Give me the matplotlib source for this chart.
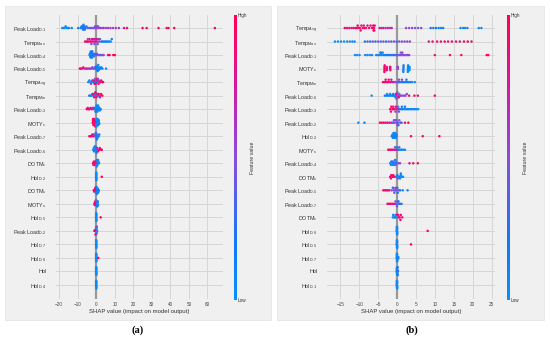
import numpy as np
import matplotlib
matplotlib.use("Agg")
import matplotlib.pyplot as plt
from matplotlib.colors import LinearSegmentedColormap
from matplotlib.patches import Rectangle

plt.rcParams["font.family"] = ["Liberation Sans", "DejaVu Sans"]
plt.rcParams["mathtext.fontset"] = "custom"
plt.rcParams["mathtext.rm"] = "Liberation Sans"
plt.rcParams["mathtext.it"] = "Liberation Sans:italic"
plt.rcParams["mathtext.bf"] = "Liberation Sans:bold"

# ---------------- data: panel (a) ----------------
labels_a = [r"Peak Load$_{\text{D-1}}$", r"Temp$_{\text{Max}}$", r"Peak Load$_{\text{D-4}}$",
            r"Peak Load$_{\text{D-5}}$", r"Temp$_{\text{Avg}}$", r"Temp$_{\text{Min}}$",
            r"Peak Load$_{\text{D-3}}$", r"MOTY$_{\text{c}}$", r"Peak Load$_{\text{D-7}}$",
            r"Peak Load$_{\text{D-6}}$", r"DOTM$_{\text{c}}$", r"Hol$_{\text{D-2}}$",
            r"DOTM$_{\text{s}}$", r"MOTY$_{\text{s}}$", r"Hol$_{\text{D-5}}$",
            r"Peak Load$_{\text{D-2}}$", r"Hol$_{\text{D-7}}$", r"Hol$_{\text{D-6}}$",
            "Hol", r"Hol$_{\text{D-4}}$"]

strip = [-0.06, -0.04, -0.02, 0.0, 0.02, 0.04, 0.06, -0.05, -0.01, 0.03, 0.05, -0.03]
strip_f = [0.03, 0.05, 0.02, 0.04, 0.06, 0.03, 0.05, 0.02, 0.04, 0.06, 0.03, 0.05]

shap_a = [
    [-18.3, -17.7, -17.1, -16.5, -15.9, -15.3, -14.7, -13.2,
     -9.7, -8.4, -7.9, -7.6, -7.3, -7.1, -6.9, -6.7, -6.5, -6.2, -5.8, -5.3,
     -4.6, -3.8, -3.0, -2.3, -1.7, -1.1, -0.6, -0.2, 0.3, 0.6, 1.0, 1.6, 2.3, 3.1, 4.0,
     5.2, 6.4, 7.7, 9.1, 10.6, 12.2, 15.0, 16.6,
     25.0, 27.2, 33.6, 38.0, 39.0, 42.1, 64.0],
    [-6.0, -5.3, -4.7, -4.2, -3.7, -3.2, -2.8, -2.4, -2.0, -1.6, -1.2, -0.8, -0.4, 0.0, 0.5, 1.0, 1.6,
     -4.5, -2.6, -1.0, 0.8, 2.0, 2.8, 3.5, 4.2, 4.9, 5.6, 6.3, 7.0, 7.8, 8.4],
    [-3.6, -3.4, -3.2, -3.1, -3.0, -2.9, -2.8, -2.7, -2.6, -2.5, -2.3, -2.1, -1.9, -1.6, -1.3,
     -1.0, -0.6, -0.2, 0.4, 1.0, 1.7, 2.4, 3.2, 4.0, 6.4, 7.2, 9.2, 10.0],
    [-8.8, -8.3, -7.6, -7.0, -6.3, -5.5, -4.8, -4.0, -3.3, -2.7, -2.1, -1.6, -1.2, -0.8, -0.4,
     0.0, 0.3, 0.6, 0.9, 1.2, 1.5, 1.9, 2.3, 2.8, 3.3, 5.3, 0.1, 0.5, 0.8, 1.1, 1.4],
    [-4.3, -3.7, -3.1, -2.6, -2.1, -1.6, -1.1, -0.6, -0.2, 0.2, 0.6,
     -1.5, -0.9, -0.3, 0.2, 0.7, 1.2, 1.7, 2.2, 2.7, 3.2, 3.7, -2.8, -0.7, 0.9, 1.5],
    [-3.8, -3.2, -2.6, -2.1, -1.6, -1.1, -0.6, -0.1, 0.4, 0.9, 1.5, 2.1,
     -1.7, -1.1, -0.5, 0.1, 0.7, 1.3, 2.0, 2.6, 3.3],
    [-5.1, -4.6, -4.1, -3.6, -3.1, -2.6, -2.1, -1.7, -1.3, -0.9,
     -0.6, -0.3, -0.1, 0.1, 0.3, 0.5, 0.7, 0.9, 1.1, 1.4, 1.7, 2.0, 2.4, -0.4, 0.2, 0.6, 1.0],
    [-1.9, -1.6, -1.3, -1.0, -0.7, -0.4, -1.8, -1.5, -1.2, -0.9, -0.6, -0.3, -1.7, -1.1, -0.5,
     0.0, 0.3, 0.6, 0.9, 1.2, 1.5, 0.1, 0.4, 0.7, 1.0, 1.3, 1.6, 0.2, 0.8, 1.4],
    [-3.7, -3.2, -2.7, -2.2, -1.8, -1.4, -1.0,
     -0.8, -0.4, -0.1, 0.2, 0.5, 0.9, 1.3, 1.7, -0.2, 0.3, 0.7],
    [-1.6, -1.3, -1.0, -0.7, -0.4, -0.1, 0.2, 0.5, -1.2, -0.8, -0.3, 0.1,
     0.6, 1.0, 1.5, 2.0, 2.5, 3.0],
    [-1.7, -1.3, -0.9, -0.5, -0.2, -1.5, -1.0, -0.4,
     0.0, 0.4, 0.8, 1.2, 1.5, 0.2, 0.6, 1.0],
    strip + [3.0],
    [-1.3, -1.0, -0.7, -0.4, -0.1, 0.2, -1.1, -0.5, 0.1,
     -0.3, 0.0, 0.3, 0.6, 0.9, 1.2, 1.4, 0.5, 1.0],
    [-1.0, -0.7, -0.4, -0.8, -0.5, -0.2, 0.1,
     0.2, 0.5, 0.8, 1.0, 0.4, 0.9, 0.6, -0.1],
    strip + [2.4],
    strip + [-1.0, -0.7, -0.4, 0.3, 0.5],
    strip,
    strip + [1.1],
    strip,
    strip,
]

fval_a = [
    [0.02, 0.04, 0.03, 0.05, 0.04, 0.06, 0.05, 0.08,
     0.10, 0.12, 0.14, 0.10, 0.15, 0.20, 0.12, 0.18, 0.25, 0.20, 0.30, 0.28,
     0.35, 0.30, 0.45, 0.40, 0.50, 0.45, 0.50, 0.55, 0.50, 0.55, 0.45, 0.60, 0.55, 0.50, 0.60,
     0.55, 0.60, 0.60, 0.62, 0.58, 0.65, 0.85, 0.90,
     0.95, 0.95, 0.97, 0.98, 0.95, 0.97, 1.0],
    [0.90, 0.85, 0.95, 0.90, 0.88, 0.80, 0.90, 0.85, 0.75, 0.90, 0.80, 0.70, 0.85, 0.75, 0.70, 0.80, 0.65,
     0.50, 0.40, 0.45, 0.35, 0.30, 0.25, 0.20, 0.15, 0.10, 0.15, 0.08, 0.10, 0.05, 0.10],
    [0.05, 0.08, 0.10, 0.06, 0.12, 0.05, 0.15, 0.08, 0.10, 0.18, 0.12, 0.20, 0.15, 0.22, 0.18,
     0.25, 0.30, 0.35, 0.40, 0.42, 0.45, 0.40, 0.50, 0.55, 0.90, 0.95, 0.92, 1.0],
    [0.95, 0.90, 0.85, 0.80, 0.75, 0.70, 0.72, 0.65, 0.60, 0.62, 0.55, 0.50, 0.45, 0.40, 0.30,
     0.20, 0.15, 0.10, 0.12, 0.08, 0.10, 0.05, 0.10, 0.06, 0.10, 0.05, 0.08, 0.06, 0.12, 0.04, 0.07],
    [0.05, 0.08, 0.10, 0.06, 0.12, 0.05, 0.15, 0.08, 0.10, 0.12, 0.06,
     0.90, 0.85, 0.95, 0.88, 0.92, 0.90, 0.85, 0.95, 0.90, 0.88, 1.0, 0.55, 0.50, 0.60, 0.55],
    [0.05, 0.08, 0.10, 0.06, 0.12, 0.05, 0.15, 0.08, 0.10, 0.12, 0.06, 0.10,
     0.90, 0.85, 0.95, 0.88, 0.92, 0.90, 0.85, 0.95, 1.0],
    [0.95, 0.90, 0.92, 0.85, 0.88, 0.80, 0.75, 0.72, 0.65, 0.60,
     0.20, 0.10, 0.05, 0.12, 0.08, 0.15, 0.05, 0.10, 0.06, 0.12, 0.08, 0.05, 0.10, 0.15, 0.06, 0.10, 0.05],
    [0.95, 0.90, 0.92, 0.88, 0.90, 0.85, 0.95, 0.90, 0.92, 0.88, 0.90, 0.85, 1.0, 0.90, 0.88,
     0.05, 0.08, 0.10, 0.06, 0.12, 0.05, 0.15, 0.08, 0.10, 0.12, 0.06, 0.10, 0.05, 0.08, 0.06],
    [0.95, 0.90, 0.92, 0.85, 0.88, 0.80, 0.75,
     0.50, 0.40, 0.10, 0.30, 0.15, 0.45, 0.10, 0.05, 0.35, 0.20, 0.10],
    [0.05, 0.08, 0.10, 0.06, 0.12, 0.05, 0.15, 0.08, 0.10, 0.12, 0.06, 0.10,
     0.80, 0.85, 0.90, 0.88, 0.92, 1.0],
    [0.95, 0.90, 0.92, 0.85, 0.88, 0.90, 0.95, 0.85,
     0.05, 0.08, 0.10, 0.06, 0.12, 0.05, 0.15, 0.08],
    strip_f + [1.0],
    [0.95, 0.90, 0.92, 0.85, 0.88, 0.90, 0.95, 0.85, 0.80,
     0.05, 0.08, 0.10, 0.06, 0.12, 0.05, 0.15, 0.08, 0.10],
    [0.95, 0.90, 0.92, 0.85, 0.88, 0.90, 0.80,
     0.05, 0.08, 0.10, 0.06, 0.12, 0.05, 0.15, 0.40],
    strip_f + [1.0],
    strip_f + [0.95, 0.90, 0.85, 0.55, 0.50],
    strip_f,
    strip_f + [1.0],
    strip_f,
    strip_f,
]

# ---------------- data: panel (b) ----------------
labels_b = [r"Temp$_{\text{Avg}}$", r"Temp$_{\text{Max}}$", r"Peak Load$_{\text{D-1}}$",
            r"MOTY$_{\text{c}}$", r"Temp$_{\text{Min}}$", r"Peak Load$_{\text{D-6}}$",
            r"Peak Load$_{\text{D-3}}$", r"Peak Load$_{\text{D-2}}$", r"Hol$_{\text{D-2}}$",
            r"MOTY$_{\text{s}}$", r"Peak Load$_{\text{D-4}}$", r"DOTM$_{\text{s}}$",
            r"Peak Load$_{\text{D-5}}$", r"Peak Load$_{\text{D-7}}$", r"DOTM$_{\text{c}}$",
            r"Hol$_{\text{D-6}}$", r"Hol$_{\text{D-5}}$", r"Hol$_{\text{D-7}}$",
            "Hol", r"Hol$_{\text{D-1}}$"]

shap_b = [
    [-13.8, -13.2, -12.6, -12.0, -11.5, -11.0, -10.6, -10.2, -9.8, -9.4, -9.0, -8.6, -8.2, -7.8,
     -7.4, -7.0, -6.6, -6.3, -6.1, -5.9, -10.4, -9.6, -8.8, -6.2, -6.0,
     -4.6, -4.1, -3.6, -3.0, -2.4, -1.8, -1.4,
     2.4, 3.2, 4.0, 4.8, 5.6, 6.4,
     8.9, 9.6, 10.3, 11.0, 11.6, 12.2, 16.8, 17.5, 18.0, 18.6, 21.6, 22.3],
    [-16.4, -15.6, -14.8, -14.0, -13.2, -12.5, -11.8, -11.2,
     -8.5, -7.8, -7.1, -6.4, -5.7, -5.0, -4.3, -3.6, -2.9, -2.2, -1.5, -0.8, -0.1, 0.6, 1.3, 2.0, 2.7, 3.4,
     8.4, 9.4, 10.6, 11.6, 12.6, 13.5, 14.5, 15.6, 16.6, 17.7, 18.7, 19.7],
    [-11.1, -10.5, -9.9, -8.4, -7.8, -7.2, -6.6, -5.5, -5.0, -4.5, -4.1, -3.6, -3.2, -2.8, -2.4,
     -2.0, -1.6, -1.2, -0.8, -4.4, -3.8, -4.2,
     -0.4, 0.0, 0.4, 0.8, 1.2, 1.6, 2.0, 2.4, 2.8, 3.2, 1.0, 1.4,
     10.0, 14.0, 17.0, 23.7, 24.1],
    [-3.32, -3.30, -3.28, -3.26, -3.34, -2.70, -2.72, -2.68, -1.80, -1.82, -1.78, -1.84, -1.76,
     0.20, 0.22, 0.18, 0.24,
     1.70, 1.72, 1.68, 1.74, 1.66, 2.90, 2.92, 2.88, 2.94, 2.86, 3.30, 3.32, 3.28],
    [-3.7, -3.3, -2.9, -2.5, -2.1, -1.7, -1.3, -0.9, -0.5, -3.0, -2.2, -1.5,
     -0.1, 0.3, 0.7, 1.1, 1.5, 1.9, 2.3, 2.7, 3.1, 3.5, 4.0, 4.7, 0.5, 1.3, 2.5],
    [-6.7, -3.2, -2.8, -2.4, -2.0, -1.6, -1.2, -0.9, -0.6, -0.3, -2.6, -1.8, -1.0, -0.4,
     0.0, 0.3, 0.6, 0.9, 1.3, 1.8, 2.2, 2.6, -0.2, 0.2, 0.5, 0.1, -0.1,
     3.2, 4.6, 5.5, 10.0],
    [-1.8, -1.5, -1.2, -0.9, -0.6, -0.3, 0.0, 0.3, -1.6, -1.0, -0.4,
     0.3, 0.7, 1.1, 1.5, 1.9, 2.3, 2.7, 3.1, 3.5, 3.9, 4.3, 4.7, 5.1, 5.6, 0.5, 1.3, 2.1],
    [-10.2, -8.6,
     -4.5, -4.0, -3.5, -3.0, -2.5, -2.0, -1.5,
     -1.2, -0.9, -0.6, -0.3, 0.0, 0.3, 0.6, 0.9, 1.2, -0.8, -0.2, 0.4, 0.1,
     2.1, 3.0],
    [-1.4, -1.2, -1.0, -0.8, -0.6, -0.4, -0.2, -0.1, -1.1, -0.7, -0.3, -0.9, -0.5,
     3.7, 6.8, 11.2],
    [-2.3, -1.9, -1.5, -1.1, -0.7, -0.3, 0.1,
     0.0, 0.4, 0.8, 1.2, 1.6, 2.1, -0.5, 0.6],
    [-1.8, -1.5, -1.2, -0.9, -0.6, -0.3, -0.1, -1.6, -1.3, -1.0, -0.7, -0.4, -1.1, -0.5,
     0.8, 0.4, 3.3, 4.3, 5.5],
    [-1.8, -1.5, -1.2, -0.9, -0.6, -1.6, -1.0,
     -0.2, 0.1, 0.4, 0.7, 1.0, 1.3, 1.6, 0.2, 0.8, 1.0],
    [-3.6, -3.2, -2.8, -2.4, -2.0,
     -1.4, -1.1, -0.8, -0.5, -0.2, 0.1, 0.4, 0.8, -1.0, -0.4, 0.2, -0.7,
     1.5, 2.8],
    [-2.5, -2.1, -1.7, -1.3, -0.9, -0.5,
     -0.4, -0.1, 0.2, 0.5, 0.8, 1.2, 0.0, 0.4],
    [-1.1, -0.8, -0.5, -0.2, -1.0, -0.4,
     0.1, 0.4, 0.7, 1.0, 1.4, 0.3, 0.9],
    strip + [8.1],
    strip + [3.7],
    strip + [0.25, 0.35, 0.3],
    strip + [0.2, 0.22, 0.18, 0.24],
    strip,
]

fval_b = [
    [0.95, 0.90, 0.92, 0.85, 0.88, 0.90, 0.95, 0.85, 0.90, 0.92, 0.88, 0.95, 0.90, 0.85,
     0.88, 0.92, 0.90, 0.85, 0.95, 0.88, 1.0, 0.90, 0.85, 0.92, 0.88,
     0.80, 0.75, 0.78, 0.70, 0.72, 0.68, 0.65,
     0.55, 0.50, 0.55, 0.45, 0.50, 0.45,
     0.20, 0.15, 0.18, 0.12, 0.10, 0.15, 0.08, 0.06, 0.10, 0.05, 0.08, 0.05],
    [0.02, 0.05, 0.03, 0.06, 0.04, 0.05, 0.08, 0.06,
     0.15, 0.40, 0.20, 0.45, 0.25, 0.50, 0.30, 0.45, 0.20, 0.50, 0.35, 0.55, 0.30, 0.50, 0.40, 0.55, 0.45, 0.60,
     0.80, 0.85, 0.90, 0.88, 0.92, 0.90, 0.95, 0.88, 0.92, 0.95, 0.97, 1.0],
    [0.02, 0.05, 0.03, 0.06, 0.04, 0.05, 0.08, 0.06, 0.10, 0.08, 0.12, 0.10, 0.15, 0.12, 0.18,
     0.20, 0.15, 0.25, 0.20, 0.10, 0.08, 0.12,
     0.30, 0.45, 0.35, 0.50, 0.40, 0.55, 0.45, 0.50, 0.55, 0.60, 0.50, 0.55,
     0.85, 0.90, 0.92, 0.95, 1.0],
    [0.95, 0.92, 0.97, 0.90, 1.0, 0.88, 0.90, 0.85, 0.80, 0.82, 0.78, 0.85, 0.80,
     0.50, 0.55, 0.50, 0.52,
     0.10, 0.12, 0.08, 0.10, 0.15, 0.05, 0.08, 0.06, 0.05, 0.10, 0.02, 0.04, 0.03],
    [0.95, 0.90, 0.92, 0.85, 0.88, 0.80, 0.75, 0.72, 0.65, 0.90, 0.85, 0.80,
     0.45, 0.40, 0.20, 0.35, 0.15, 0.30, 0.10, 0.25, 0.12, 0.08, 0.10, 0.05, 0.50, 0.40, 0.15],
    [0.05, 0.08, 0.10, 0.06, 0.12, 0.05, 0.15, 0.08, 0.10, 0.12, 0.06, 0.10, 0.15, 0.20,
     0.45, 0.50, 0.40, 0.55, 0.50, 0.45, 0.60, 0.55, 0.85, 0.50, 0.90, 0.55, 0.45,
     0.85, 0.90, 0.92, 1.0],
    [0.95, 0.90, 0.92, 0.85, 0.88, 0.80, 0.75, 0.70, 0.90, 0.85, 0.60,
     0.10, 0.15, 0.08, 0.12, 0.05, 0.10, 0.06, 0.08, 0.05, 0.10, 0.06, 0.08, 0.05, 0.04, 0.40, 0.30, 0.12],
    [0.05, 0.08,
     0.95, 0.90, 0.92, 0.85, 0.88, 0.80, 0.75,
     0.50, 0.30, 0.55, 0.40, 0.45, 0.25, 0.50, 0.20, 0.35, 0.60, 0.40, 0.30, 0.55,
     0.90, 0.95],
    [0.05, 0.08, 0.10, 0.06, 0.12, 0.05, 0.15, 0.08, 0.10, 0.12, 0.06, 0.10, 0.05,
     1.0, 0.95, 1.0],
    [0.95, 0.90, 0.92, 0.85, 0.88, 0.80, 0.75,
     0.10, 0.15, 0.08, 0.12, 0.05, 0.10, 0.40, 0.30],
    [0.05, 0.08, 0.10, 0.06, 0.12, 0.05, 0.15, 0.08, 0.10, 0.40, 0.06, 0.45, 0.05, 0.20,
     0.50, 0.55, 0.90, 0.95, 1.0],
    [0.95, 0.90, 0.92, 0.85, 0.88, 0.90, 0.95,
     0.10, 0.15, 0.08, 0.12, 0.05, 0.10, 0.06, 0.40, 0.08, 0.12],
    [0.95, 0.90, 0.92, 0.85, 0.88,
     0.50, 0.30, 0.55, 0.40, 0.45, 0.25, 0.50, 0.20, 0.35, 0.60, 0.15, 0.40,
     0.10, 0.05],
    [0.95, 0.90, 0.92, 0.85, 0.88, 0.80,
     0.50, 0.30, 0.55, 0.40, 0.20, 0.10, 0.45, 0.15],
    [0.05, 0.08, 0.10, 0.06, 0.12, 0.05,
     0.95, 0.90, 0.92, 0.85, 0.88, 0.90, 0.95],
    strip_f + [1.0],
    strip_f + [1.0],
    strip_f + [0.10, 0.15, 0.08],
    strip_f + [0.20, 0.10, 0.15, 0.30],
    strip_f,
]

xticks_a = [-20, -10, 0, 10, 20, 30, 40, 50, 60]
xticks_b = [-15, -10, -5, 0, 5, 10, 15, 20, 25]

# ---------------- style ----------------
W, H = 550, 339
BG = "#f0f0f0"
GRID = "#d6d6d6"
cmap = LinearSegmentedColormap.from_list("shap_rb", [
    (0.0, "#0a90fb"), (0.2, "#1577f5"), (0.35, "#5062ea"), (0.5, "#8b4ed8"),
    (0.62, "#aa34c6"), (0.75, "#d31a9f"), (0.87, "#f00b78"), (1.0, "#ff0052")])


def px(x, y):
    return x / W, 1 - y / H


def swarm_offsets(vals, binw):
    # shap-style stacking of overlapping points
    vals = np.asarray(vals, dtype=float)
    quant = np.round(vals / binw)
    order = np.argsort(quant, kind="stable")
    ys = np.zeros(len(vals))
    layer = 0
    last = None
    for i in order:
        if quant[i] != last:
            layer = 0
        ys[i] = np.ceil(layer / 2) * ((layer % 2) * 2 - 1)
        layer += 1
        last = quant[i]
    ys *= 0.9 * (0.4 / np.max(ys + 1))
    return ys


def beeswarm(rect, labels, shaps, fvals, xlim, xticks, binw):
    ax = fig.add_axes(rect)
    ax.set_facecolor("none")
    n = len(labels)
    for i in range(n):
        pos = n - 1 - i
        ax.axhline(pos, color=GRID, lw=0.7, zorder=0)
        ys = swarm_offsets(shaps[i], binw)
        ax.scatter(shaps[i], pos + ys, c=fvals[i], cmap=cmap, vmin=0, vmax=1,
                   s=3.2, linewidths=0, zorder=3)
    for t in xticks:
        ax.axvline(t, color=GRID, lw=0.7, zorder=0)
    ax.axvline(0, color="#999999", lw=1.6, zorder=1)
    ax.set_xlim(*xlim)
    ax.set_ylim(-1, n)
    ax.set_yticks(range(n))
    ax.set_yticklabels(labels[::-1], fontsize=3.9, color="#333333")
    ax.set_xticks(xticks)
    ax.tick_params(axis="x", labelsize=3.3, labelcolor="#444444", length=0, pad=2.5)
    ax.tick_params(axis="y", length=0, pad=7)
    ax.set_xlabel("SHAP value (impact on model output)", fontsize=4.3,
                  color="#333333", labelpad=1.5)
    for s in ax.spines.values():
        s.set_visible(False)
    return ax


def colorbar(x, label_x):
    l, b = px(x, 300)
    cax = fig.add_axes([l, b, 3 / W, 285 / H])
    cax.imshow(np.linspace(0, 1, 256)[:, None], aspect="auto", cmap=cmap, origin="lower")
    cax.axis("off")
    fig.text(*px(x + 4.5, 15), "High", fontsize=3.3, color="#333333", va="center")
    fig.text(*px(x + 4.5, 300), "Low", fontsize=3.3, color="#333333", va="center")
    fig.text(*px(label_x, 157.5), "Feature value", fontsize=3.8, color="#333333",
             rotation=90, ha="center", va="center")


fig = plt.figure(figsize=(W / 100, H / 100), dpi=100)
fig.patch.set_facecolor("white")
fig.add_artist(Rectangle(px(5, 320), 266 / W, 314 / H, transform=fig.transFigure,
                         facecolor=BG, edgecolor="#e2e2e2", lw=0.5, zorder=-10))
fig.add_artist(Rectangle(px(277, 320), 267 / W, 314 / H, transform=fig.transFigure,
                         facecolor=BG, edgecolor="#e2e2e2", lw=0.5, zorder=-10))

l, b = px(56, 298.5)
beeswarm([l, b, 167 / W, 284 / H], labels_a, shap_a, fval_a, (-21.7, 68.4), xticks_a, 0.8)
colorbar(233.5, 252.5)

l, b = px(327, 298.5)
beeswarm([l, b, 168 / W, 284 / H], labels_b, shap_b, fval_b, (-18.5, 25.9), xticks_b, 0.4)
colorbar(506.5, 525.5)

fig.text(*px(137.5, 330), "(a)", fontsize=7.5, family="Liberation Serif",
         weight="bold", ha="center", va="center")
fig.text(*px(411.5, 330), "(b)", fontsize=7.5, family="Liberation Serif",
         weight="bold", ha="center", va="center")

fig.savefig("out.png", dpi=100)
